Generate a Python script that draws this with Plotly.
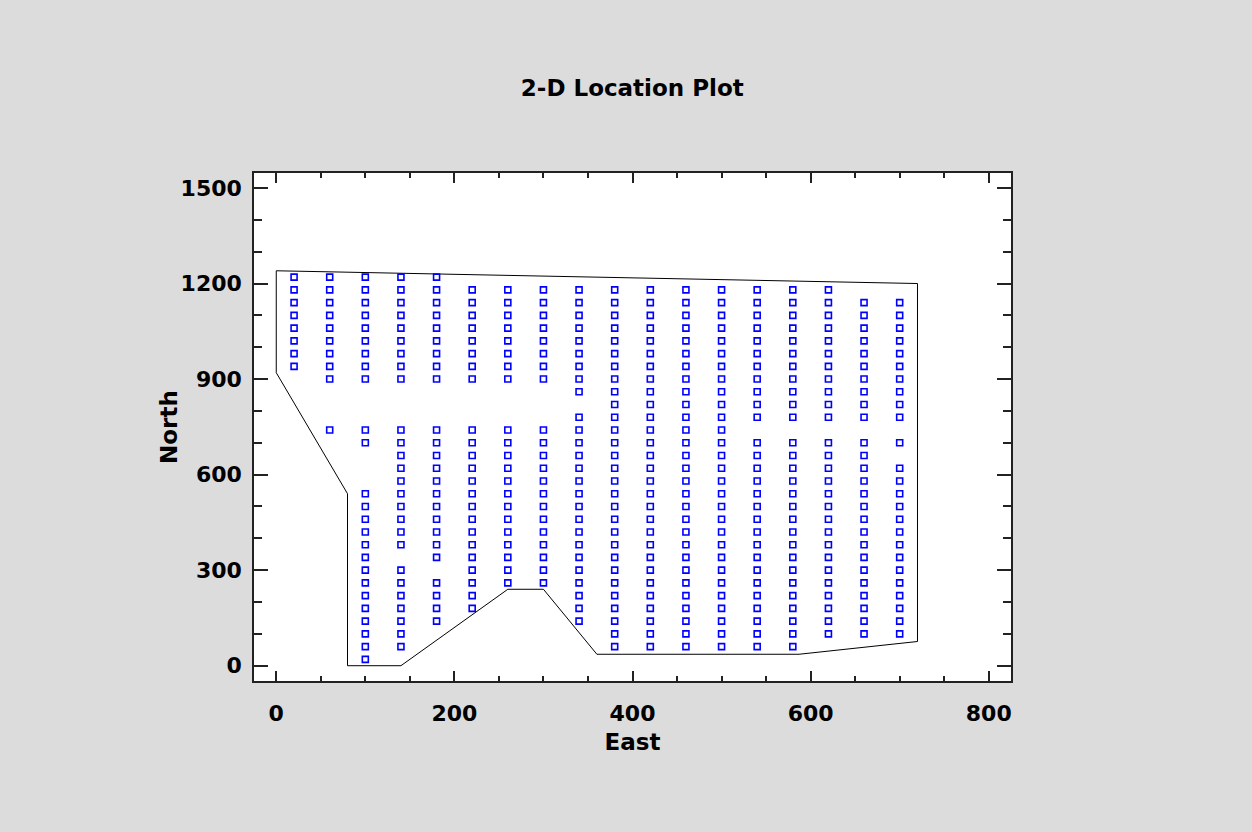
import plotly.graph_objects as go

# Sample locations, listed column by column (East value -> North values)
north_by_east = {
    20:  [940, 980, 1020, 1060, 1100, 1140, 1180, 1220],
    60:  [740, 900, 940, 980, 1020, 1060, 1100, 1140, 1180, 1220],
    100: [20, 60, 100, 140, 180, 220, 260, 300, 340, 380, 420, 460, 500, 540,
          700, 740, 900, 940, 980, 1020, 1060, 1100, 1140, 1180, 1220],
    140: [60, 100, 140, 180, 220, 260, 300, 380, 420, 460, 500, 540, 580, 620,
          660, 700, 740, 900, 940, 980, 1020, 1060, 1100, 1140, 1180, 1220],
    180: [140, 180, 220, 260, 340, 380, 420, 460, 500, 540, 580, 620, 660, 700,
          740, 900, 940, 980, 1020, 1060, 1100, 1140, 1180, 1220],
    220: [180, 220, 260, 300, 340, 380, 420, 460, 500, 540, 580, 620, 660, 700,
          740, 900, 940, 980, 1020, 1060, 1100, 1140, 1180],
    260: [260, 300, 340, 380, 420, 460, 500, 540, 580, 620, 660, 700, 740,
          900, 940, 980, 1020, 1060, 1100, 1140, 1180],
    300: [260, 300, 340, 380, 420, 460, 500, 540, 580, 620, 660, 700, 740,
          900, 940, 980, 1020, 1060, 1100, 1140, 1180],
    340: [140, 180, 220, 260, 300, 340, 380, 420, 460, 500, 540, 580, 620, 660,
          700, 740, 780, 860, 900, 940, 980, 1020, 1060, 1100, 1140, 1180],
    380: [60, 100, 140, 180, 220, 260, 300, 340, 380, 420, 460, 500, 540, 580,
          620, 660, 700, 740, 780, 820, 860, 900, 940, 980, 1020, 1060, 1100,
          1140, 1180],
    420: [60, 100, 140, 180, 220, 260, 300, 340, 380, 420, 460, 500, 540, 580,
          620, 660, 700, 740, 780, 820, 860, 900, 940, 980, 1020, 1060, 1100,
          1140, 1180],
    460: [60, 100, 140, 180, 220, 260, 300, 340, 380, 420, 460, 500, 540, 580,
          620, 660, 700, 740, 780, 820, 860, 900, 940, 980, 1020, 1060, 1100,
          1140, 1180],
    500: [60, 100, 140, 180, 220, 260, 300, 340, 380, 420, 460, 500, 540, 580,
          620, 660, 700, 740, 780, 820, 860, 900, 940, 980, 1020, 1060, 1100,
          1140, 1180],
    540: [60, 100, 140, 180, 220, 260, 300, 340, 380, 420, 460, 500, 540, 580,
          620, 660, 700, 780, 820, 860, 900, 940, 980, 1020, 1060, 1100,
          1140, 1180],
    580: [60, 100, 140, 180, 220, 260, 300, 340, 380, 420, 460, 500, 540, 580,
          620, 660, 700, 780, 820, 860, 900, 940, 980, 1020, 1060, 1100,
          1140, 1180],
    620: [100, 140, 180, 220, 260, 300, 340, 380, 420, 460, 500, 540, 580,
          620, 660, 700, 780, 820, 860, 900, 940, 980, 1020, 1060, 1100,
          1140, 1180],
    660: [100, 140, 180, 220, 260, 300, 340, 380, 420, 460, 500, 540, 580,
          620, 660, 700, 780, 820, 860, 900, 940, 980, 1020, 1060, 1100, 1140],
    700: [100, 140, 180, 220, 260, 300, 340, 380, 420, 460, 500, 540, 580,
          620, 700, 780, 820, 860, 900, 940, 980, 1020, 1060, 1100, 1140],
}

# Boundary polygon of the region
boundary_east = [0, 720, 720, 587, 360, 300, 260, 140, 80, 80, 0, 0]
boundary_north = [1240, 1200, 76, 36, 36, 240, 240, 0, 0, 540, 920, 1240]

x_ticks = [0, 200, 400, 600, 800]
y_ticks = [0, 300, 600, 900, 1200, 1500]

east = []
north = []
for e, ns in north_by_east.items():
    for n in ns:
        east.append(e)
        north.append(n)

FONT = "DejaVu Sans"

fig = go.Figure()
fig.add_trace(go.Scatter(
    x=boundary_east, y=boundary_north, mode="lines",
    line=dict(color="black", width=1), hoverinfo="skip", showlegend=False,
))
fig.add_trace(go.Scatter(
    x=east, y=north, mode="markers",
    marker=dict(symbol="square-open", size=6, color="#0000FF",
                line=dict(width=1.6, color="#0000FF")),
    showlegend=False,
))

axis_common = dict(
    showgrid=False, zeroline=False, showline=True, linecolor="#222222",
    linewidth=1.5, mirror="ticks", ticks="inside", tickcolor="#222222",
    tickwidth=1.5,
    tickfont=dict(family=FONT, size=22, color="black", weight="bold"),
)

fig.update_xaxes(
    **axis_common, range=[-25, 825], tickmode="array", tickvals=x_ticks,
    ticklen=10, ticklabelstandoff=12,
    minor=dict(dtick=50, ticklen=5, ticks="inside", tickcolor="#222222",
               tickwidth=1.5, showgrid=False),
    title=dict(text="<b>East</b>", font=dict(family=FONT, size=23, color="black"),
               standoff=9),
)
fig.update_yaxes(
    **axis_common, range=[-48, 1547], tickmode="array", tickvals=y_ticks,
    ticklen=14, ticklabelstandoff=6,
    minor=dict(dtick=100, ticklen=8, ticks="inside", tickcolor="#222222",
               tickwidth=1.5, showgrid=False),
)

fig.update_layout(
    width=1252, height=832,
    paper_bgcolor="#DCDCDC", plot_bgcolor="white",
    margin=dict(l=254, r=241, t=173, b=151),
    title=dict(text="<b>2-D Location Plot</b>", x=0.505, xanchor="center",
               y=1 - 88 / 832, yanchor="middle",
               font=dict(family=FONT, size=23, color="black")),
    annotations=[dict(
        text="<b>North</b>", xref="paper", yref="paper",
        x=(169 - 254) / 757, y=0.5, xanchor="center", yanchor="middle",
        textangle=-90, showarrow=False,
        font=dict(family=FONT, size=23, color="black"),
    )],
)

fig.write_html("out.html")
